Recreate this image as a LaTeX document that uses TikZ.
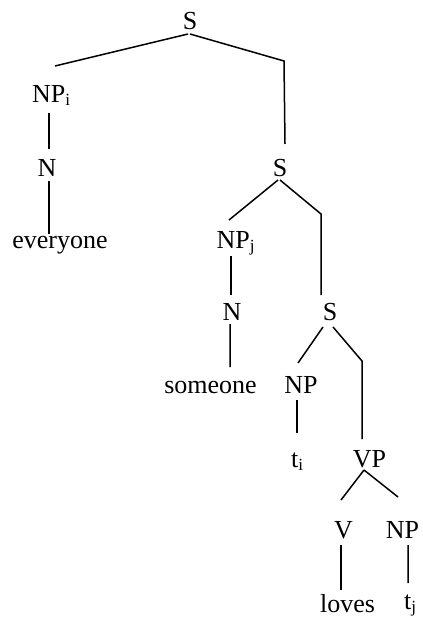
\documentclass[tikz,border=0pt]{standalone}
\usepackage{fontspec}
\setmainfont{Liberation Serif}
\usetikzlibrary{calc}
% lowered, smaller index after a category label
\newcommand\idx[1]{\raisebox{-3bp}{\fontsize{17bp}{17bp}\selectfont #1}}
\begin{document}
\begin{tikzpicture}[x=1bp,y=-1bp,
  lbl/.style={anchor=base,inner sep=0pt,font=\fontsize{26bp}{30bp}\selectfont},
  branch/.style={line width=1.5bp}]
\useasboundingbox (0,0) rectangle (422,617);

% labels of the tree
\node[lbl] (s1)    at (190,30)    {S};
\node[lbl] (npi)   at (51,103)    {NP\idx{i}};
\node[lbl] (n1)    at (47,177)    {N};
\node[lbl] (every) at (60,248)    {everyone};
\node[lbl] (s2)    at (280,177)   {S};
\node[lbl] (npj)   at (235.5,248) {NP\idx{j}};
\node[lbl] (n2)    at (232,320)   {N};
\node[lbl] (some)  at (210.5,393) {someone};
\node[lbl] (s3)    at (330,320)   {S};
\node[lbl] (np1)   at (301,393)   {NP};
\node[lbl] (ti)    at (297,467)   {t\idx{i}};
\node[lbl] (vp)    at (369.5,467) {VP};
\node[lbl] (v)     at (343.5,538) {V};
\node[lbl] (np2)   at (402.5,538) {NP};
\node[lbl] (loves) at (347.5,612) {loves};
\node[lbl] (tj)    at (410,609)   {t\idx{j}};

% branches
\draw[branch] ($(s1.base)+(-2,4)$) -- ($(npi.base)+(4,-37)$);
\draw[branch] ($(s1.base)+(0,4)$) -- ($(s2.base)+(4,-116)$) -- ($(s2.base)+(5,-33)$);
\draw[branch] ($(npi.base)+(-2,10)$) -- ($(n1.base)+(2,-28)$);
\draw[branch] ($(n1.base)+(2,4)$) -- ($(every.base)+(-11,-14)$);
\draw[branch] ($(s2.base)+(-2,3)$) -- ($(npj.base)+(-6.5,-28)$);
\draw[branch] ($(s2.base)+(0,3)$) -- ($(s3.base)+(-9,-106)$) -- ($(s3.base)+(-9,-25)$);
\draw[branch] ($(npj.base)+(-4.5,8)$) -- ($(n2.base)+(-1,-25)$);
\draw[branch] ($(n2.base)+(-2,4)$) -- ($(some.base)+(19.5,-26)$);
\draw[branch] ($(s3.base)+(-7,7)$) -- ($(np1.base)+(-3,-30)$);
\draw[branch] ($(s3.base)+(3,7)$) -- ($(vp.base)+(-7.5,-106)$) -- ($(vp.base)+(-7.5,-28)$);
\draw[branch] ($(np1.base)+(-4,7)$) -- ($(ti.base)+(0,-34)$);
\draw[branch] ($(vp.base)+(-5.5,3)$) -- ($(v.base)+(-2.5,-38)$);
\draw[branch] ($(vp.base)+(-5.5,3)$) -- ($(np2.base)+(-4.5,-41)$);
\draw[branch] ($(v.base)+(-2.5,7)$) -- ($(loves.base)+(-6.5,-22)$);
\draw[branch] ($(np2.base)+(5.5,7)$) -- ($(tj.base)+(-2,-26)$);
\end{tikzpicture}
\end{document}
